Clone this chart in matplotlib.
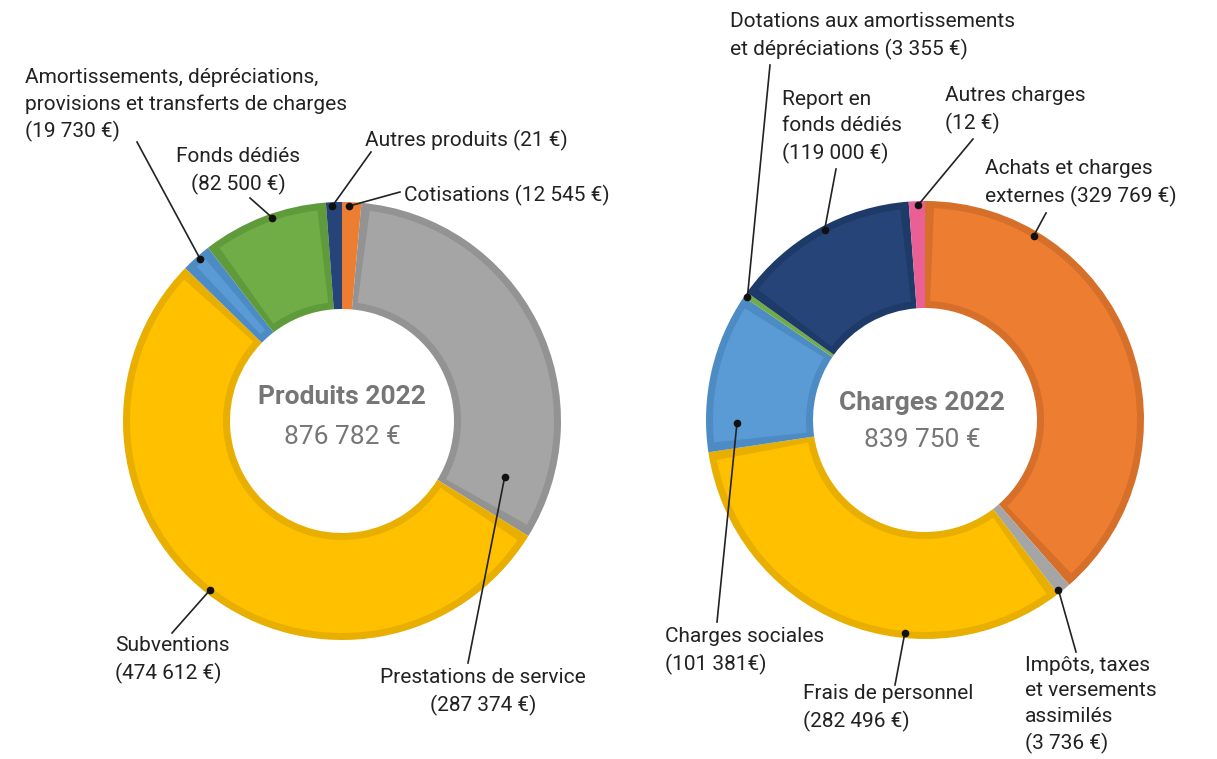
import matplotlib
matplotlib.use("Agg")
import matplotlib.pyplot as plt
from matplotlib.patches import Wedge
import numpy as np

plt.rcParams['font.family'] = ['Roboto', 'DejaVu Sans']

W, H = 1217, 759

# Produits 2022 (slices drawn clockwise from 12 o'clock)
prod_labels = ["Cotisations (12 545 €)",
               "Prestations de service\n(287 374 €)",
               "Subventions\n(474 612 €)",
               "Amortissements, dépréciations,\nprovisions et transferts de charges\n(19 730 €)",
               "Fonds dédiés\n(82 500 €)",
               "Autres produits (21 €)"]
prod_values = [12545, 287374, 474612, 19730, 82500, 21]
# slice sizes as they appear in the picture (tiny items are drawn bigger)
prod_drawn = [12545, 287374, 474612, 19730, 82500, 10400]
prod_colors = ["#ED7D31", "#A5A5A5", "#FFC000", "#5B9BD5", "#70AD47", "#264478"]
prod_edges = ["#D66F2A", "#939393", "#E8AE00", "#4D8BC4", "#5F9A3B", "#1E3A68"]
prod_total = "876 782 €"

# Charges 2022
chg_labels = ["Achats et charges\nexternes (329 769 €)",
              "Impôts, taxes\net versements\nassimilés\n(3 736 €)",
              "Frais de personnel\n(282 496 €)",
              "Charges sociales\n(101 381€)",
              "Dotations aux amortissements\net dépréciations (3 355 €)",
              "Report en\nfonds dédiés\n(119 000 €)",
              "Autres charges\n(12 €)"]
chg_values = [329769, 3736, 282496, 101381, 3355, 119000, 12]
chg_drawn = [329769, 9000, 282496, 101381, 3355, 119000, 10200]
chg_colors = ["#ED7D31", "#A5A5A5", "#FFC000", "#5B9BD5", "#70AD47", "#264478", "#EA5F94"]
chg_edges = ["#D66F2A", "#939393", "#E8AE00", "#4D8BC4", "#5F9A3B", "#1E3A68", "#D9517F"]
chg_total = "839 750 €"

R, RW, B = 219, 107, 7   # outer radius, ring width, inner border (px)

fig = plt.figure(figsize=(W / 100, H / 100), dpi=100)
ax = fig.add_axes([0, 0, 1, 1])


def donut(center, drawn, colors, edges):
    wedges, _ = ax.pie(drawn, colors=edges, center=center, radius=R,
                       startangle=90, counterclock=False,
                       wedgeprops=dict(width=RW, linewidth=0))
    rmid = R - RW / 2
    d = np.degrees(B / rmid)
    for w, fc in zip(wedges, colors):
        if w.theta2 - w.theta1 <= 2 * d + 0.5:
            w.set_facecolor(fc)
            continue
        ax.add_patch(Wedge(center, R - B, w.theta1 + d, w.theta2 - d,
                           width=RW - 2 * B, facecolor=fc, linewidth=0))
    return wedges


def label(wedge, center, frac, rad, text, txy, lxy, ha="left"):
    # dot on the slice, line to the text
    a = np.radians(wedge.theta1 + frac * (wedge.theta2 - wedge.theta1))
    px = center[0] + rad * np.cos(a)
    py = center[1] + rad * np.sin(a)
    ax.plot([px, lxy[0]], [py, H - lxy[1]], color="#222222", lw=1.2, zorder=5)
    ax.plot(px, py, "o", color="#111111", ms=4.5, zorder=6)
    ax.text(txy[0], H - txy[1], text, ha=ha, va="center", fontsize=15,
            color="#222222", linespacing=1.45, multialignment=ha)


c1 = (342, H - 421)
c2 = (925, H - 420)
w1 = donut(c1, prod_drawn, prod_colors, prod_edges)
w2 = donut(c2, chg_drawn, chg_colors, chg_edges)

# (frac along slice, radius, text position, line end)
prod_pos = [(0.64, 215, (404, 195), (400, 192), "left"),
            (0.11, 172, (483, 692), (468, 663), "center"),
            (0.50, 215, (115, 660), (172, 633), "left"),
            (0.44, 215, (25, 105), (137, 142), "left"),
            (0.44, 215, (238, 171), (250, 198), "center"),
            (0.62, 215, (365, 140), (371, 152), "left")]
chg_pos = [(0.78, 214, (985, 183), (1046, 213), "left"),
           (0.2, 216, (1025, 705), (1076, 652), "left"),
           (0.64, 214, (803, 708), (895, 685), "left"),
           (0.82, 188, (665, 651), (717, 622), "left"),
           (0.65, 216, (730, 36), (770, 65), "left"),
           (0.47, 215, (782, 127), (836, 169), "left"),
           (0.43, 215, (945, 110), (973, 139), "left")]

for w, t, (f, r, txy, lxy, ha) in zip(w1, prod_labels, prod_pos):
    label(w, c1, f, r, t, txy, lxy, ha)
for w, t, (f, r, txy, lxy, ha) in zip(w2, chg_labels, chg_pos):
    label(w, c2, f, r, t, txy, lxy, ha)

ax.text(c1[0], H - 397, "Produits 2022", ha="center", va="center", fontsize=19,
        fontweight="bold", color="#767676")
ax.text(c1[0], H - 437, prod_total, ha="center", va="center", fontsize=19, color="#767676")
ax.text(c2[0] - 3, H - 403, "Charges 2022", ha="center", va="center", fontsize=19,
        fontweight="bold", color="#767676")
ax.text(c2[0] - 3, H - 440, chg_total, ha="center", va="center", fontsize=19, color="#767676")

ax.set_xlim(0, W)
ax.set_ylim(0, H)
ax.set_aspect("equal")
ax.axis("off")
fig.savefig("out.png", dpi=100)
